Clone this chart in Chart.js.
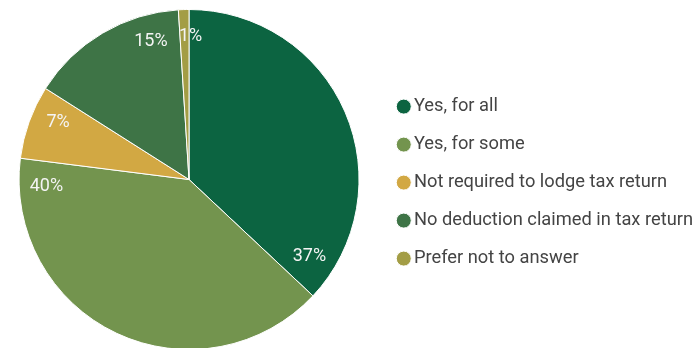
<!DOCTYPE html>
<html>
<head>
<meta charset="utf-8">
<script src="https://cdn.jsdelivr.net/npm/chart.js@4"></script>
<style>
  html, body { margin: 0; padding: 0; background: #fff; overflow: hidden; }
  #wrap { position: relative; width: 708px; height: 350px; margin-left: -5px; }
</style>
</head>
<body>
<div id="wrap"><canvas id="claimChart"></canvas></div>
<script>
// Share of respondents by whether a deduction was claimed
const categories = [
  'Yes, for all',
  'Yes, for some',
  'Not required to lodge tax return',
  'No deduction claimed in tax return',
  'Prefer not to answer'
];
const shares = [37, 40, 7, 15, 1];
const sliceColors = ['#0c6441', '#73944e', '#d2a843', '#3e7446', '#a39d45'];
// where along each slice the percentage label sits (0 = start, 1 = end)
const labelAt = [0.92, 0.93, 0.65, 0.78, 1.17];

const FONT = 'Roboto, "Open Sans", sans-serif';

// draws the percentage text inside each slice
const sliceLabels = {
  id: 'sliceLabels',
  afterDatasetsDraw(chart) {
    const ctx = chart.ctx;
    const meta = chart.getDatasetMeta(0);
    ctx.save();
    ctx.font = '18px ' + FONT;
    ctx.fillStyle = '#f4f4f4';
    ctx.textAlign = 'center';
    ctx.textBaseline = 'middle';
    meta.data.forEach((arc, i) => {
      const p = arc.getProps(['x', 'y', 'startAngle', 'endAngle', 'outerRadius'], true);
      const a = p.startAngle + labelAt[i] * (p.endAngle - p.startAngle);
      const r = p.outerRadius * 0.84;
      ctx.fillText(shares[i] + '%', p.x + Math.cos(a) * r, p.y + Math.sin(a) * r);
    });
    ctx.restore();
  }
};

const ctx = document.getElementById('claimChart').getContext('2d');
new Chart(ctx, {
  type: 'pie',
  data: {
    labels: categories,
    datasets: [{
      data: shares,
      backgroundColor: sliceColors,
      borderColor: '#ffffff',
      borderWidth: 1
    }]
  },
  options: {
    responsive: true,
    maintainAspectRatio: false,
    animation: false,
    layout: { padding: { top: 9, left: 0, right: 0 } },
    plugins: {
      tooltip: { enabled: false },
      legend: {
        position: 'right',
        align: 'center',
        title: { display: true, text: '', font: { size: 1 }, padding: { top: 2, bottom: 3 } },
        labels: {
          usePointStyle: true,
          pointStyle: 'circle',
          boxWidth: 2,
          boxHeight: 10.6,
          padding: 19.7,
          color: '#444444',
          font: { family: FONT, size: 18.3 }
        }
      }
    }
  },
  plugins: [sliceLabels]
});
</script>
</body>
</html>
